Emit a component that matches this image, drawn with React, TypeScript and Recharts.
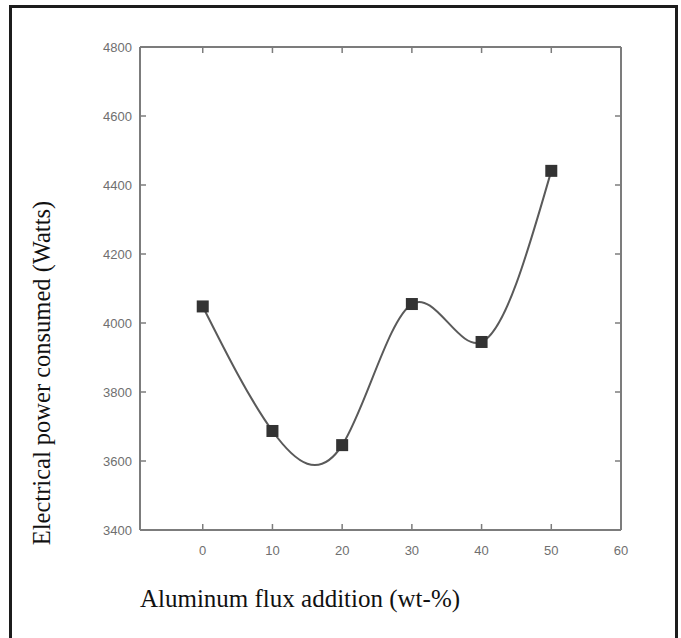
import { LineChart, Line, XAxis, YAxis } from "recharts";

const additions = [0, 10, 20, 30, 40, 50];
const power = [4048, 3687, 3646, 4055, 3945, 4441];
const xTicks = [0, 10, 20, 30, 40, 50, 60];
const yTicks = [3400, 3600, 3800, 4000, 4200, 4400, 4600, 4800];
const innerXTicks = [0, 10, 20, 30, 40, 50];
const innerYTicks = [3600, 3800, 4000, 4200, 4400, 4600];

const data = additions.map((a, i) => ({ addition: a, power: power[i] }));

// plot box edges (match chart margins / axis sizes below)
const PLOT_TOP = 47;
const PLOT_BOTTOM = 530;
const PLOT_LEFT = 140;
const PLOT_RIGHT = 621;

const AXIS = "#7c7c7c";
const TICK_TEXT = "#6f6f6f";
const TICK_LEN = 6;

const tickFont = { fontFamily: "Liberation Sans, Arial, sans-serif", fontSize: 13 };

function BottomTick(props: any) {
  const { x, payload } = props;
  return (
    <g>
      <line x1={x} x2={x} y1={PLOT_BOTTOM} y2={PLOT_BOTTOM - TICK_LEN} stroke={AXIS} strokeWidth={1.5} />
      <text x={x} y={PLOT_BOTTOM + 25} textAnchor="middle" fill={TICK_TEXT} style={tickFont}>
        {payload.value}
      </text>
    </g>
  );
}

function LeftTick(props: any) {
  const { y, payload } = props;
  return (
    <g>
      <line x1={PLOT_LEFT} x2={PLOT_LEFT + TICK_LEN} y1={y} y2={y} stroke={AXIS} strokeWidth={1.5} />
      <text x={PLOT_LEFT - 8} y={y} textAnchor="end" dominantBaseline="central" fill={TICK_TEXT} style={tickFont}>
        {payload.value}
      </text>
    </g>
  );
}

function TopTick(props: any) {
  const { x } = props;
  return <line x1={x} x2={x} y1={PLOT_TOP} y2={PLOT_TOP + TICK_LEN} stroke={AXIS} strokeWidth={1.5} />;
}

function RightTick(props: any) {
  const { y } = props;
  return <line x1={PLOT_RIGHT} x2={PLOT_RIGHT - TICK_LEN} y1={y} y2={y} stroke={AXIS} strokeWidth={1.5} />;
}

function SquareDot(props: any) {
  const { cx, cy, index } = props;
  return <rect key={`dot-${index}`} x={cx - 6} y={cy - 6} width={12} height={12} fill="#333" />;
}

const labelFont = {
  position: "absolute" as const,
  whiteSpace: "nowrap" as const,
  fontFamily: "Liberation Serif, Times New Roman, serif",
  fontSize: 25,
  lineHeight: 1,
  color: "#111",
};

export default function App() {
  return (
    <div style={{ position: "absolute", left: 0, top: 0, width: 681, height: 638, background: "#fff", overflow: "hidden" }}>
      <div
        style={{
          position: "absolute",
          left: 9,
          top: 5,
          right: 3,
          bottom: -10,
          border: "3px solid #1c1c1c",
          boxSizing: "border-box",
        }}
      />
      <LineChart
        width={681}
        height={638}
        data={data}
        margin={{ top: PLOT_TOP - 1, right: 681 - PLOT_RIGHT - 1, left: 0, bottom: 0 }}
      >
        <XAxis
          xAxisId="bottom"
          dataKey="addition"
          type="number"
          domain={[-9, 60]}
          ticks={xTicks}
          allowDataOverflow
          height={638 - PLOT_BOTTOM}
          tickSize={0}
          tick={<BottomTick />}
          axisLine={{ stroke: AXIS, strokeWidth: 2 }}
          tickLine={false}
        />
        <XAxis
          xAxisId="top"
          dataKey="addition"
          type="number"
          orientation="top"
          domain={[-9, 60]}
          ticks={innerXTicks}
          allowDataOverflow
          height={1}
          tickSize={0}
          tick={<TopTick />}
          axisLine={{ stroke: AXIS, strokeWidth: 2 }}
          tickLine={false}
        />
        <YAxis
          yAxisId="left"
          type="number"
          domain={[3400, 4800]}
          ticks={yTicks}
          width={PLOT_LEFT}
          tickSize={0}
          tick={<LeftTick />}
          axisLine={{ stroke: AXIS, strokeWidth: 2 }}
          tickLine={false}
        />
        <YAxis
          yAxisId="right"
          orientation="right"
          type="number"
          domain={[3400, 4800]}
          ticks={innerYTicks}
          width={1}
          tickSize={0}
          tick={<RightTick />}
          axisLine={{ stroke: AXIS, strokeWidth: 2 }}
          tickLine={false}
        />
        {/* invisible series so the top and right frame axes are drawn */}
        <Line
          xAxisId="top"
          yAxisId="right"
          dataKey="power"
          stroke="none"
          dot={false}
          activeDot={false}
          legendType="none"
          isAnimationActive={false}
        />
        <Line
          xAxisId="bottom"
          yAxisId="left"
          type="natural"
          dataKey="power"
          stroke="#5a5a5a"
          strokeWidth={2}
          dot={<SquareDot />}
          activeDot={false}
          isAnimationActive={false}
        />
      </LineChart>
      <div style={{ ...labelFont, fontSize: 24.5, left: 42, top: 373, transform: "translate(-50%, -50%) rotate(-90deg)" }}>
        Electrical power consumed (Watts)
      </div>
      <div style={{ ...labelFont, left: 300, top: 598, transform: "translate(-50%, -50%)" }}>
        Aluminum flux addition (wt-%)
      </div>
    </div>
  );
}
